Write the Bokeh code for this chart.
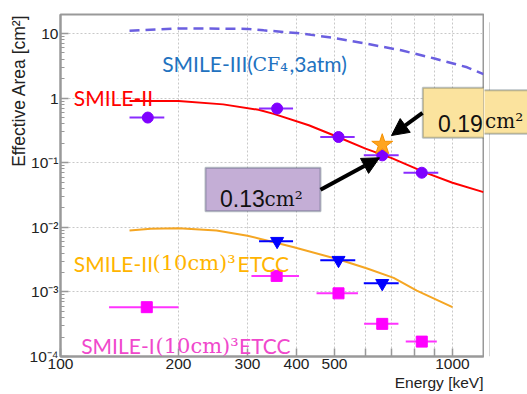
import numpy as np
from bokeh.plotting import figure
from bokeh.layouts import row
from bokeh.models import FixedTicker, Label, BoxAnnotation, Arrow, NormalHead, Range1d, Title
from bokeh.embed import file_html
from bokeh.resources import INLINE

# ---------------- data ----------------
# SMILE-III (CF4, 3 atm) simulation, dashed
smile3_E = [150, 200, 300, 330, 400, 490, 600, 740, 900, 1090, 1200]
smile3_A = [11.0, 12.0, 11.8, 11.2, 10.2, 8.7, 7.0, 5.5, 4.1, 3.0, 2.35]
# SMILE-II simulation, red
smile2_sim_E = [150, 200, 260, 320, 350, 430, 510, 600, 700, 850, 1000, 1200]
smile2_sim_A = [0.90, 0.90, 0.80, 0.66, 0.57, 0.38, 0.25, 0.165, 0.118, 0.071, 0.049, 0.035]
# SMILE-II (10cm)^3 ETCC simulation, orange
etcc2_sim_E = [150, 170, 200, 250, 300, 324, 357, 394, 511, 606, 708, 811, 1000]
etcc2_sim_A = [0.0089, 0.0095, 0.0097, 0.0089, 0.0074, 0.0066, 0.0057, 0.0049,
               0.0032, 0.0023, 0.00165, 0.00105, 0.00058]
# SMILE-II measured points (purple circles)
smile2_E = [167, 357, 512, 662, 835]
smile2_lo = [150, 321, 460, 594, 750]
smile2_hi = [184, 392, 563, 729, 920]
smile2_A = [0.50, 0.69, 0.25, 0.13, 0.070]
# SMILE-II (10cm)^3 ETCC measured (blue triangles)
etcc2_E = [357, 512, 662]
etcc2_lo = [321, 460, 594]
etcc2_hi = [392, 565, 729]
etcc2_A = [0.0061, 0.0031, 0.00136]
# SMILE-I (10cm)^3 ETCC measured (magenta squares)
etcc1_E = [166, 356, 512, 662, 835]
etcc1_lo = [133, 307, 450, 595, 760]
etcc1_hi = [200, 406, 574, 728, 912]
etcc1_A = [0.00058, 0.00177, 0.00095, 0.00032, 0.00017]
# SMILE-III expected at 662 keV (star)
star_E = [662]
star_A = [0.19]

x_ticks = [100, 200, 300, 400, 500, 600, 700, 800, 900, 1000]
x_tick_labels = ["100", "200", "300", "400", "500", "", "", "", "", "1000"]
y_ticks = [1e-4, 1e-3, 1e-2, 1e-1, 1, 10]
y_tick_labels = ["10⁻⁴", "10⁻³", "10⁻²", "10⁻¹", "1", "10"]
x_title = "Energy [keV]"
y_title = "Effective Area [cm²]"

# ---------------- layout ----------------
W, H = 527, 394
FL, FR, FT, FB = 60, 483, 14, 356
PW = FR + 1          # width of main figure (frame ends at FR)
XMIN, XMAX = 100, 1200
YMIN, YMAX = 1e-4, 19.7


def ex(px):
    return 10 ** (np.log10(XMIN) + (px - FL) / (FR - FL) * np.log10(XMAX / XMIN))


def ay(py):
    return 10 ** (np.log10(YMIN) + (FB - py) / (FB - FT) * np.log10(YMAX / YMIN))


SANS = "Liberation Sans"
LEG = "Lato"
SERIF = "DejaVu Serif"
GRAY = "#999999"
LEG_SIZE = "21px"

p = figure(width=PW, height=H, x_axis_type="log", y_axis_type="log",
           x_range=(XMIN, XMAX), y_range=(YMIN, YMAX),
           output_backend="svg", toolbar_location=None, title=None,
           min_border_left=FL, min_border_right=PW - FR,
           min_border_top=FT, min_border_bottom=H - FB)
p.background_fill_color = "white"
p.border_fill_color = "white"
p.outline_line_color = GRAY
p.outline_line_width = 2

p.xaxis.ticker = FixedTicker(ticks=x_ticks, minor_ticks=[])
p.xaxis.major_label_overrides = {t: l for t, l in zip(x_ticks, x_tick_labels)}
y_minor = [m * 10.0 ** k for k in range(-4, 2) for m in range(2, 10)]
p.yaxis.ticker = FixedTicker(ticks=y_ticks, minor_ticks=y_minor)
p.yaxis.major_label_overrides = {t: l for t, l in zip(y_ticks, y_tick_labels)}

for ax in (p.xaxis[0], p.yaxis[0]):
    ax.axis_line_color = GRAY
    ax.axis_line_width = 2
    ax.major_tick_line_color = GRAY
    ax.minor_tick_line_color = GRAY
    ax.major_tick_line_width = 1.5
    ax.minor_tick_line_width = 1
    ax.major_tick_in = 8
    ax.major_tick_out = 0
    ax.minor_tick_in = 4
    ax.minor_tick_out = 0
    ax.major_label_text_font = SANS
    ax.major_label_text_font_size = "15.5px"
    ax.major_label_text_color = "#222222"
p.xaxis.major_label_standoff = 2
p.yaxis.major_label_standoff = 2

# axis titles as side titles aligned to the far end (ROOT style)
p.add_layout(Title(text=x_title, align="right", text_font=SANS, text_font_size="15.5px",
                   text_font_style="normal", text_color="#222222", standoff=0), "below")
try:
    ytitle = Title(text=y_title, align="right", text_font=SANS, text_font_size="17.5px",
                   text_font_style="normal", text_color="#222222", standoff=-4)
except Exception:
    ytitle = Title(text=y_title, align="right", text_font=SANS, text_font_size="17.5px",
                   text_font_style="normal", text_color="#222222", standoff=0)
p.add_layout(ytitle, "left")

p.grid.grid_line_color = "#c8c8c8"
p.grid.grid_line_dash = "2 2"
p.grid.grid_line_width = 1

# ---------------- curves ----------------
p.line(smile3_E, smile3_A, line_color="#6b5fe0", line_width=2.5, line_dash="10 6")
p.line(smile2_sim_E, smile2_sim_A, line_color="#ff0000", line_width=2)
p.line(etcc2_sim_E, etcc2_sim_A, line_color="#f5a623", line_width=2)

# ---------------- points ----------------
p.segment(x0=smile2_lo, x1=smile2_hi, y0=smile2_A, y1=smile2_A, line_color="#8a2cff", line_width=2)
p.scatter(smile2_E, smile2_A, marker="circle", size=11, fill_color="#7f00ff", line_color="#7f00ff")

p.segment(x0=etcc2_lo, x1=etcc2_hi, y0=etcc2_A, y1=etcc2_A, line_color="#0000ff", line_width=2)
p.scatter(etcc2_E, etcc2_A, marker="inverted_triangle", size=13, fill_color="#0000ff", line_color="#0000ff")

p.segment(x0=etcc1_lo, x1=etcc1_hi, y0=etcc1_A, y1=etcc1_A, line_color="#ff33ff", line_width=2)
p.scatter(etcc1_E, etcc1_A, marker="square", size=11, fill_color="#ff00ff", line_color="#ff00ff")

p.scatter(star_E, star_A, marker="star", size=22, fill_color="#ffa51f", line_color="#f59000")


# ---------------- texts ----------------
def add_text(px, py, text, font, size, color, align="left"):
    p.add_layout(Label(x=ex(px), y=ay(py), text=text, text_font=font,
                       text_font_size=size, text_color=color,
                       text_align=align, text_baseline="alphabetic"))


BLUE_T = "#2272c0"
add_text(161.7, 63.3, "SMILE-III(", LEG, LEG_SIZE, BLUE_T)
add_text(252, 63.3, "CF₄", SERIF, "19px", BLUE_T)
add_text(289, 63.3, ",3atm)", LEG, LEG_SIZE, BLUE_T)

add_text(73.3, 96.7, "SMILE-II", LEG, LEG_SIZE, "#ff0000")

ORANGE_T = "#ffb400"
add_text(73.3, 262.7, "SMILE-II", LEG, LEG_SIZE, ORANGE_T)
add_text(152, 262.7, "(10cm)³", SERIF, "21px", ORANGE_T)
add_text(237, 262.7, "ETCC", LEG, LEG_SIZE, ORANGE_T)

MAG_T = "#f048cc"
add_text(80.7, 345, "SMILE-I", LEG, LEG_SIZE, MAG_T)
add_text(155, 345, "(10cm)³", SERIF, "21px", MAG_T)
add_text(238.5, 345, "ETCC", LEG, LEG_SIZE, MAG_T)

# ---------------- callouts ----------------
BORDER = "#1e3446"
YEL = "#fbe39e"
p.add_layout(BoxAnnotation(left=ex(422.3), right=ex(540), top=ay(87.3), bottom=ay(137.3),
                           fill_color=YEL, fill_alpha=1, line_color=BORDER, line_width=2))
add_text(437.5, 122.7, "0.19", SANS, "23px", "#111111")
p.add_layout(Arrow(x_start=ex(422), y_start=ay(112.3), x_end=ex(391), y_end=ay(135),
                   line_color="black", line_width=4,
                   end=NormalHead(size=17, fill_color="black", line_color="black")))

p.add_layout(BoxAnnotation(left=ex(205), right=ex(320), top=ay(167.3), bottom=ay(210.7),
                           fill_color="#c4aed6", fill_alpha=1, line_color=BORDER, line_width=2))
add_text(219.5, 198.3, "0.13", SANS, "23px", "#111111")
add_text(264, 198.3, "cm²", SERIF, "20px", "#111111")
p.add_layout(Arrow(x_start=ex(320), y_start=ay(189.3), x_end=ex(379), y_end=ay(157.3),
                   line_color="black", line_width=4,
                   end=NormalHead(size=17, fill_color="black", line_color="black")))

# ---------------- right strip (callout overflow + canvas edge) ----------------
q = figure(width=W - PW, height=H, x_range=Range1d(PW, W), y_range=Range1d(H, 0),
           output_backend="svg", toolbar_location=None, title=None,
           x_axis_location=None, y_axis_location=None,
           min_border=0, min_border_left=0, min_border_right=0,
           min_border_top=0, min_border_bottom=0)
q.grid.visible = False
q.outline_line_color = None
q.background_fill_color = "white"
q.border_fill_color = "white"
q.add_layout(BoxAnnotation(left=488.5, right=489.5, top=9, bottom=H,
                           fill_color="#d4d4d4", fill_alpha=1, line_alpha=0))
q.add_layout(BoxAnnotation(left=PW - 10, right=W + 10, top=87.3, bottom=137.3,
                           fill_color=YEL, fill_alpha=1, line_color=BORDER, line_width=2))
q.add_layout(Label(x=PW + 0.5, y=122.7, text="cm²", text_font=SERIF, text_font_size="20px",
                   text_color="#111111", text_align="left", text_baseline="alphabetic"))

layout = row(p, q, spacing=0)
open("out.html", "w").write(file_html(layout, INLINE))
